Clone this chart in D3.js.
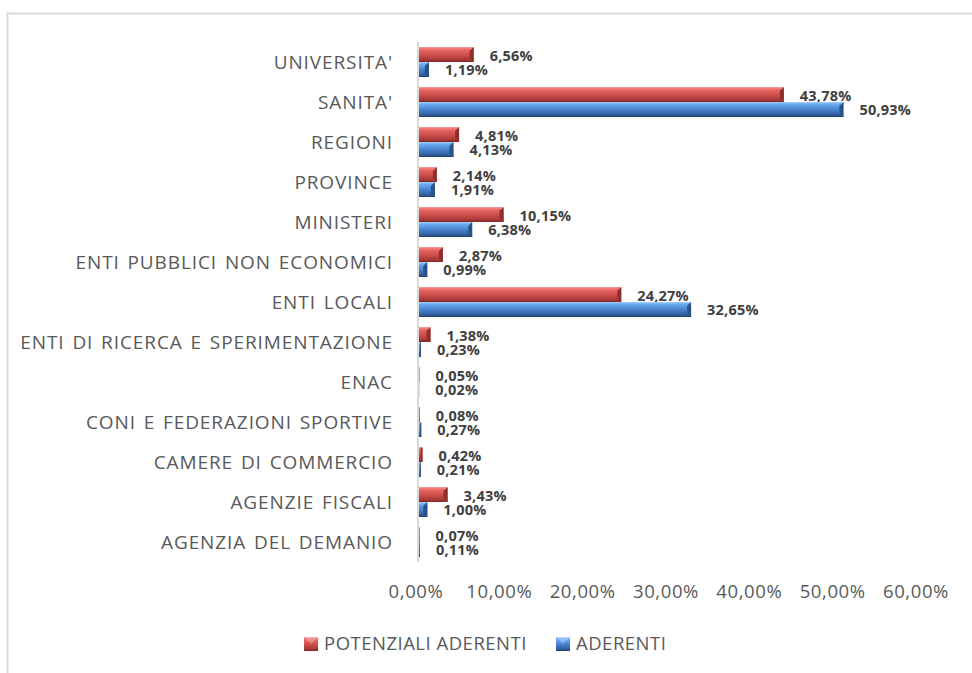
<!DOCTYPE html>
<html>
<head>
<meta charset="utf-8">
<script src="https://cdn.jsdelivr.net/npm/d3@7"></script>
<style>
  body { margin: 0; background: #fff; }
  text { font-family: "Open Sans", sans-serif; }
</style>
</head>
<body>
<svg id="chart" width="972" height="673"></svg>
<script>
var categories = ["UNIVERSITA'", "SANITA'", "REGIONI", "PROVINCE", "MINISTERI",
  "ENTI PUBBLICI NON ECONOMICI", "ENTI LOCALI", "ENTI DI RICERCA E SPERIMENTAZIONE",
  "ENAC", "CONI E FEDERAZIONI SPORTIVE", "CAMERE DI COMMERCIO", "AGENZIE FISCALI",
  "AGENZIA DEL DEMANIO"];
var potenziali = [6.56, 43.78, 4.81, 2.14, 10.15, 2.87, 24.27, 1.38, 0.05, 0.08, 0.42, 3.43, 0.07];
var aderenti = [1.19, 50.93, 4.13, 1.91, 6.38, 0.99, 32.65, 0.23, 0.02, 0.27, 0.21, 1.00, 0.11];
var seriesNames = ["POTENZIALI ADERENTI", "ADERENTI"];
var xTicks = [0, 10, 20, 30, 40, 50, 60];

var svg = d3.select("#chart");

// chart area border (only top and left are inside the picture)
svg.append("rect")
    .attr("x", 7.5).attr("y", 13.5)
    .attr("width", 1000).attr("height", 700)
    .attr("fill", "none")
    .attr("stroke", "#d9d9d9")
    .attr("stroke-width", 2);

var defs = svg.append("defs");
function grad(id, stops) {
  var g = defs.append("linearGradient").attr("id", id)
      .attr("x1", 0).attr("y1", 0).attr("x2", 0).attr("y2", 1);
  stops.forEach(function(s) {
    g.append("stop").attr("offset", s[0]).attr("stop-color", s[1]);
  });
}
grad("redGrad", [[0, "#f4a3a1"], [0.15, "#ec6a67"], [0.5, "#d0504d"], [0.85, "#a63937"], [1, "#7e2624"]]);
grad("blueGrad", [[0, "#a5cdf7"], [0.15, "#6aaaf0"], [0.5, "#4a85cf"], [0.85, "#2f5f9d"], [1, "#213f6b"]]);

var x = d3.scaleLinear().domain([0, 60]).range([419, 919]);
var y = d3.scaleBand().domain(categories).range([42, 562]).paddingInner(0.25).paddingOuter(0.125);
var ySub = d3.scaleBand().domain(seriesNames).range([0, y.bandwidth()]);

// vertical axis line
svg.append("line")
    .attr("x1", x(0) - 1).attr("x2", x(0) - 1)
    .attr("y1", y.range()[0]).attr("y2", y.range()[1])
    .attr("stroke", "#d9d9d9").attr("stroke-width", 2);

// category labels
svg.append("g").selectAll("text")
  .data(categories).enter().append("text")
    .attr("x", 393)
    .attr("y", function(d) { return y(d) + y.bandwidth() / 2; })
    .attr("dy", "0.35em")
    .attr("text-anchor", "end")
    .attr("fill", "#595959")
    .attr("font-size", 19)
    .attr("letter-spacing", 0.9)
    .attr("word-spacing", 2)
    .text(function(d) { return d; });

var rows = categories.map(function(c, i) {
  return {cat: c, values: [
    {s: seriesNames[0], v: potenziali[i], fill: "url(#redGrad)", end: "#8e2f2d"},
    {s: seriesNames[1], v: aderenti[i], fill: "url(#blueGrad)", end: "#2a5287"}
  ]};
});

var groups = svg.append("g").selectAll("g")
  .data(rows).enter().append("g")
    .attr("transform", function(d) { return "translate(0," + y(d.cat) + ")"; });

var bars = groups.selectAll("g").data(function(d) { return d.values; }).enter().append("g");

bars.append("rect")
    .attr("x", x(0))
    .attr("y", function(d) { return ySub(d.s); })
    .attr("width", function(d) { return Math.max(0, x(d.v) - x(0)); })
    .attr("height", ySub.bandwidth())
    .attr("fill", function(d) { return d.fill; });

// bevelled end of each bar
bars.append("path")
    .attr("d", function(d) {
      var w = x(d.v) - x(0), h = ySub.bandwidth(), b = Math.min(4, w / 2), y0 = ySub(d.s), xe = x(d.v);
      return "M" + (xe - b) + "," + (y0 + b) + "L" + xe + "," + y0 + "L" + xe + "," + (y0 + h) + "L" + (xe - b) + "," + (y0 + h - b) + "Z";
    })
    .attr("fill", function(d) { return d.end; });

// data labels
bars.append("text")
    .attr("x", function(d) { return x(d.v) + 16; })
    .attr("y", function(d, i) { return ySub(d.s) + ySub.bandwidth() / 2 + (i === 0 ? 1.5 : 0); })
    .attr("dy", "0.35em")
    .attr("fill", "#404040")
    .attr("font-size", 14.5)
    .attr("font-weight", "bold")
    .attr("letter-spacing", 0.2)
    .text(function(d) { return d.v.toFixed(2).replace(".", ",") + "%"; });

// x tick labels
svg.append("g").selectAll("text")
  .data(xTicks).enter().append("text")
    .attr("x", function(d) { return x(d) - 3; })
    .attr("y", 592)
    .attr("dy", "0.35em")
    .attr("text-anchor", "middle")
    .attr("fill", "#595959")
    .attr("font-size", 18.5)
    .attr("letter-spacing", 0.6)
    .text(function(d) { return d.toFixed(2).replace(".", ",") + "%"; });

// legend
var legend = svg.append("g");
var legendItems = [
  {name: seriesNames[0], x: 304, fill: "url(#redGrad)"},
  {name: seriesNames[1], x: 556, fill: "url(#blueGrad)"}
];
var li = legend.selectAll("g").data(legendItems).enter().append("g")
    .attr("transform", function(d) { return "translate(" + d.x + ",637)"; });
li.append("rect").attr("width", 14).attr("height", 14).attr("fill", function(d) { return d.fill; });
li.append("path").attr("d", "M0,0L7,7L14,0Z").attr("fill", "#fff").attr("opacity", 0.25);
li.append("text")
    .attr("x", 20).attr("y", 7).attr("dy", "0.35em")
    .attr("fill", "#595959").attr("font-size", 18.5)
    .attr("letter-spacing", 0.5)
    .text(function(d) { return d.name; });
</script>
</body>
</html>
